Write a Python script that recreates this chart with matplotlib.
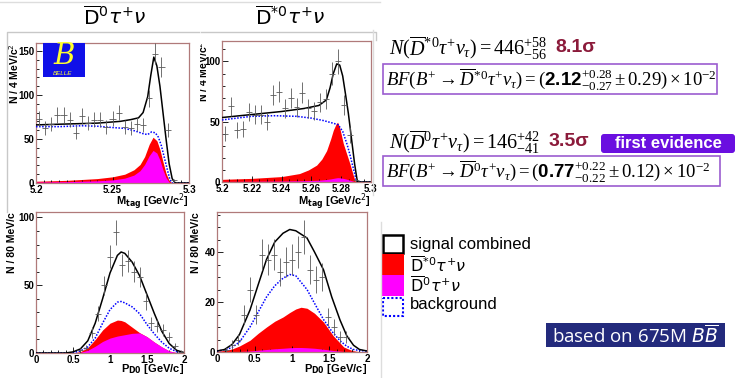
import numpy as np
import matplotlib
matplotlib.use('Agg')
import matplotlib.pyplot as plt
from matplotlib.patches import Rectangle, FancyBboxPatch
from matplotlib.ticker import MultipleLocator, FixedLocator, FixedFormatter

W, H = 737, 378
plt.rcParams['font.family'] = ['Liberation Sans', 'DejaVu Sans']
plt.rcParams['mathtext.rm'] = 'Liberation Serif'
plt.rcParams['mathtext.it'] = 'Liberation Serif:italic'
plt.rcParams['mathtext.bf'] = 'Liberation Sans:bold'
plt.rcParams['mathtext.fallback'] = 'stix'

# ---------------- data ----------------
# M_tag histograms (4 MeV bins, 5.20 - 5.30)
mtag_centres = 5.202 + 0.004 * np.arange(25)
tl_counts = [73, 62, 67, 77, 77, 72, 57, 76, 68, 72, 72, 64, 73, 80, 64, 62, 67, 66,
             96, 147, 132, 60, 3, 0, 0]
tr_counts = [40, 63, 43, 44, 58, 56, 56, 50, 72, 75, 61, 70, 62, 74, 61, 59, 66, 69,
             90, 100, 64, 39, 2, 0, 0]
# P_D0 histograms (80 MeV bins, 0 - 2)
pd_centres = 0.04 + 0.08 * np.arange(25)
bl_counts = [0, 0, 0, 0, 0, 0, 0, 2, 4, 15, 29, 50, 71, 89, 65, 68, 60, 56, 38, 22,
             20, 17, 12, 5, 1]
br_counts = [0, 1, 3, 5, 15, 25, 15, 39, 37, 39, 32, 36, 37, 40, 46, 33, 29, 30, 14, 10,
             6, 6, 0, 0, 0]

# top-left (D0 tau nu, M_tag) curves
tl_x_tot = [5.200, 5.220, 5.240, 5.255, 5.262, 5.267, 5.270, 5.273, 5.275, 5.277, 5.279,
            5.281, 5.283, 5.285, 5.287, 5.289, 5.291, 5.300]
tl_tot = [66, 67, 68, 70, 72, 74, 80, 98, 122, 143, 133, 110, 80, 50, 22, 5, 0, 0]
tl_x_bkg = [5.200, 5.215, 5.230, 5.240, 5.250, 5.258, 5.265, 5.270, 5.273, 5.2755, 5.278,
            5.280, 5.282, 5.284, 5.286, 5.2875, 5.289, 5.300]
tl_bkg = [64, 64, 65, 64.5, 63, 62, 59, 56, 55, 58, 57, 52, 42, 28, 14, 4, 0, 0]
tl_x_sig = [5.200, 5.220, 5.240, 5.250, 5.258, 5.264, 5.268, 5.271, 5.274, 5.2765, 5.279,
            5.281, 5.283, 5.285, 5.287, 5.289, 5.300]
tl_red = [2, 3, 5, 7, 10, 15, 21, 30, 44, 52, 48, 38, 24, 11, 3, 0, 0]
tl_mag = [1, 1.5, 2.5, 3.5, 5.5, 9, 14, 21, 31, 37, 34, 26, 15, 6, 1, 0, 0]

# top-right (D*0 tau nu, M_tag) curves
tr_x_tot = [5.200, 5.220, 5.240, 5.255, 5.265, 5.270, 5.2725, 5.2747, 5.277, 5.279, 5.281,
            5.283, 5.2848, 5.287, 5.289, 5.2905, 5.291, 5.300]
tr_tot = [53.5, 56, 58.5, 61, 63.5, 68, 78, 90, 98, 97, 88, 72, 57, 35, 15, 3, 0, 0]
tr_x_bkg = [5.200, 5.210, 5.220, 5.235, 5.250, 5.260, 5.268, 5.274, 5.278, 5.281, 5.284,
            5.286, 5.288, 5.290, 5.291, 5.300]
tr_bkg = [51.5, 53, 54.5, 55, 54.5, 53, 51, 49, 47.5, 42, 31, 22, 12, 2, 0, 0]
tr_x_sig = [5.200, 5.220, 5.240, 5.252, 5.258, 5.2635, 5.267, 5.2702, 5.273, 5.2747, 5.2765,
            5.2776, 5.279, 5.2814, 5.2835, 5.2859, 5.288, 5.2893, 5.2905, 5.300]
tr_red = [2.2, 3, 4.5, 7, 10, 14, 19, 26, 36, 43, 48, 49.6, 45, 32, 24, 15, 6, 1, 0, 0]
tr_mag = [0.5, 0.6, 0.8, 1.0, 1.2, 1.4, 1.7, 2.1, 2.6, 3.0, 3.4, 3.6, 3.5, 3.0, 2.4, 1.5,
          0.7, 0.2, 0, 0]

# bottom-left (D0 tau nu, P_D0) curves
bl_x = [0.0, 0.4, 0.5, 0.6, 0.7, 0.8, 0.9, 1.0, 1.1, 1.15, 1.2, 1.3, 1.4, 1.5, 1.6, 1.7,
        1.8, 1.9, 2.0]
bl_tot = [0, 0, 0.8, 3, 9, 22, 40, 59, 72, 74.5, 73.5, 67, 57, 43, 29, 16, 7, 2, 0.3]
bl_bkg = [0, 0, 0.3, 1.5, 4.5, 11, 22, 32, 37.5, 38, 37, 34, 29, 21, 14, 8, 3.5, 1, 0]
bl_red = [0, 0, 0.2, 1, 4, 10, 17, 22, 24.3, 24, 23, 19, 15, 12, 8, 4.5, 1.5, 0.3, 0]
bl_mag = [0, 0, 0.1, 0.5, 2, 5, 8.5, 11, 12.5, 13, 13.5, 14.5, 14.8, 12, 8, 4.5, 1.5, 0.3, 0]

# bottom-right (D*0 tau nu, P_D0) curves
br_x = [0.0, 0.1, 0.2, 0.3, 0.44, 0.55, 0.66, 0.77, 0.88, 0.97, 1.05, 1.2, 1.3, 1.42, 1.53,
        1.64, 1.73, 1.82, 1.9, 2.0]
br_tot = [0.4, 1, 3, 7, 16.8, 27, 37, 44, 47.5, 49, 48.5, 45.6, 40, 32.9, 22, 12.8, 6.5,
          2.7, 1, 0.4]
br_bkg = [0.4, 0.8, 1.8, 4, 10, 16, 22, 26.5, 29.5, 31, 30.5, 25, 19.5, 13, 8.3, 4.5, 2.3,
          1, 0.6, 0.4]
br_xs = [0.0, 0.1, 0.2, 0.3, 0.44, 0.55, 0.66, 0.77, 0.88, 0.97, 1.05, 1.12, 1.2, 1.3, 1.42,
         1.55, 1.69, 1.8, 1.9, 2.0]
br_red = [0.3, 0.6, 1.2, 2.4, 4.7, 7.5, 10, 12.3, 14, 15.8, 17.2, 17.9, 17.5, 15.5, 12, 6.5,
          2, 0.6, 0.1, 0]
br_mag = [0, 0.05, 0.1, 0.2, 0.4, 0.7, 1.0, 1.3, 1.5, 1.7, 1.8, 1.8, 1.7, 1.5, 1.1, 0.6, 0.2,
          0.05, 0, 0]

# ---------------- figure ----------------
fig = plt.figure(figsize=(W / 100, H / 100), dpi=100)
fig.patch.set_facecolor('white')

FRAME = '#b07a7a'


def px_axes(l, t, r, b, **kw):
    return fig.add_axes([l / W, 1 - b / H, (r - l) / W, (b - t) / H], **kw)


def style(ax, xlim, ylim, xt, xtl, xminor, yt, yminor):
    ax.set_xlim(*xlim)
    ax.set_ylim(*ylim)
    ax.xaxis.set_major_locator(FixedLocator(xt))
    ax.xaxis.set_major_formatter(FixedFormatter(xtl))
    ax.xaxis.set_minor_locator(MultipleLocator(xminor))
    ax.yaxis.set_major_locator(FixedLocator(yt))
    ax.yaxis.set_major_formatter(FixedFormatter([str(v) for v in yt]))
    ax.yaxis.set_minor_locator(MultipleLocator(yminor))
    ax.tick_params(which='both', direction='in', top=False, right=False,
                   labelsize=7, pad=1.2, colors='black', width=0.6)
    ax.tick_params(which='major', length=4)
    ax.tick_params(which='minor', length=2)
    for lab in ax.get_xticklabels() + ax.get_yticklabels():
        lab.set_fontweight('bold')
    for s in ax.spines.values():
        s.set_color(FRAME)
        s.set_linewidth(0.9)


def draw(ax, xs, red, mag, xb, bkg, xt, tot, centres, counts, halfw):
    ax.fill_between(xs, 0, red, color='#ff0000', lw=0, zorder=1)
    ax.fill_between(xs, 0, mag, color='#ff00ff', lw=0, zorder=2)
    ax.plot(xb, bkg, color='#0000ff', lw=1.1, ls=(0, (1, 1)), zorder=3)
    ax.plot(xt, tot, color='black', lw=1.1, zorder=4)
    c = np.asarray(counts, float)
    m = c > 0
    ax.errorbar(np.asarray(centres)[m], c[m], yerr=np.sqrt(c[m]), xerr=halfw, fmt='none',
                ecolor='#5a5a5a', elinewidth=0.6, zorder=5)


ax_tl = px_axes(36, 43, 189, 183)
draw(ax_tl, tl_x_sig, tl_red, tl_mag, tl_x_bkg, tl_bkg, tl_x_tot, tl_tot,
     mtag_centres, tl_counts, 0.002)
style(ax_tl, (5.2, 5.3), (0, 159), [5.2, 5.25, 5.3], ['5.2', '5.25', '5.3'], 0.005,
      [0, 50, 100, 150], 10)

ax_tr = px_axes(222, 41, 371, 182)
draw(ax_tr, tr_x_sig, tr_red, tr_mag, tr_x_bkg, tr_bkg, tr_x_tot, tr_tot,
     mtag_centres, tr_counts, 0.002)
style(ax_tr, (5.2, 5.3), (0, 117),
      [5.2, 5.22, 5.24, 5.26, 5.28, 5.3], ['5.2', '5.22', '5.24', '5.26', '5.28', '5.3'],
      0.005, [0, 50, 100], 10)

ax_bl = px_axes(36, 212, 184, 353)
draw(ax_bl, bl_x, bl_red, bl_mag, bl_x, bl_bkg, bl_x, bl_tot, pd_centres, bl_counts, 0.04)
style(ax_bl, (0, 2), (0, 104), [0, 0.5, 1, 1.5, 2], ['0', '0.5', '1', '1.5', '2'], 0.1,
      [0, 50, 100], 10)

ax_br = px_axes(217, 212, 367, 352)
draw(ax_br, br_xs, br_red, br_mag, br_x, br_bkg, br_x, br_tot, pd_centres, br_counts, 0.04)
style(ax_br, (0, 2), (0, 56), [0, 0.5, 1, 1.5, 2], ['0', '0.5', '1', '1.5', '2'], 0.1,
      [0, 20, 40], 5)

# ---------------- overlay in pixel coordinates ----------------
ov = fig.add_axes([0, 0, 1, 1], zorder=10)
ov.set_xlim(0, W)
ov.set_ylim(H, 0)
ov.axis('off')
ov.patch.set_alpha(0)

GREY = '#c8c8c8'
# slide picture frames
ov.plot([0, 380], [2, 2], color='#dddddd', lw=1)
ov.plot([7, 7, 199], [212, 32, 32], color=GREY, lw=1)
ov.plot([201, 376, 376], [32, 32, 40], color=GREY, lw=1)
ov.plot([373, 373], [30, 195], color='#dddddd', lw=1)
ov.plot([381, 381], [222, 378], color='#dddddd', lw=1)

# titles
ov.text(115, 17, r'$\overline{\mathrm{D}}^{0}\tau^{+}\nu$', fontsize=14.5, ha='center',
        va='center', math_fontfamily='dejavusans')
ov.text(290, 17, r'$\overline{\mathrm{D}}^{*0}\tau^{+}\nu$', fontsize=14.5, ha='center',
        va='center', math_fontfamily='dejavusans')

# axis titles
ov.text(14, 43, r'N / 4 MeV/c$^{2}$', rotation=90, fontsize=7.5, fontweight='bold',
        ha='center', va='top', math_fontfamily='dejavusans')
ov.text(12, 212, 'N / 80 MeV/c', rotation=90, fontsize=7.5, fontweight='bold',
        ha='center', va='top')
ov.text(196, 212, 'N / 80 MeV/c', rotation=90, fontsize=7.5, fontweight='bold',
        ha='center', va='top')
# right-hand top y title, cut by the picture edge as in the slide
clip_ax = px_axes(200, 36, 207, 190, zorder=11)
clip_ax.axis('off')
clip_ax.set_xlim(0, 7)
clip_ax.set_ylim(154, 0)
clip_ax.text(3, 5, r'N / 4 MeV/c$^{2}$', rotation=90, fontsize=7.5, fontweight='bold',
             ha='center', va='top', clip_on=True, math_fontfamily='dejavusans')

for xr in (189, 371):
    ov.text(xr, 201, r'M$_{\mathbf{tag}}$ [GeV/c$^{2}$]', fontsize=8, fontweight='bold',
            ha='right', va='center', math_fontfamily='dejavusans')
for xr in (184, 367):
    ov.text(xr, 369, r'P$_{\mathbf{D0}}$ [GeV/c]', fontsize=8, fontweight='bold',
            ha='right', va='center', math_fontfamily='dejavusans')

# Belle logo
ov.add_patch(Rectangle((43, 43), 42, 34, facecolor='#1010e8', edgecolor='none'))
ov.text(64, 56, 'B', fontsize=21, color='#ffff30', style='italic', family='DejaVu Serif',
        ha='center', va='center')
ov.text(63, 73.5, 'BELLE', fontsize=4.5, color='#ffff30', style='italic', ha='center',
        va='center')

# results text
MF = 'custom'
ov.text(389, 48, r'$N(\overline{D}^{*0}\tau^{+}\nu_{\tau}) = 446^{+58}_{-56}$', fontsize=14.5,
        ha='left', va='center', math_fontfamily=MF)
ov.text(555, 47, '8.1σ', fontsize=14, fontweight='bold', color='#8b1a3a', ha='left',
        va='center')
ov.add_patch(Rectangle((383, 64), 334, 30, facecolor='none', edgecolor='#9b5cd0', lw=1.2))
ov.text(386, 79, r'$BF(B^{+} \rightarrow \overline{D}^{*0}\tau^{+}\nu_{\tau}) = '
        r'(\mathbf{2.12}^{+0.28}_{-0.27} \pm 0.29)\times 10^{-2}$', fontsize=13.5,
        ha='left', va='center', math_fontfamily=MF)

ov.text(389, 142, r'$N(\overline{D}^{0}\tau^{+}\nu_{\tau}) = 146^{+42}_{-41}$', fontsize=14.5,
        ha='left', va='center', math_fontfamily=MF)
ov.text(549, 141, '3.5σ', fontsize=14, fontweight='bold', color='#8b1a3a', ha='left',
        va='center')
ov.add_patch(FancyBboxPatch((601, 134), 134, 19, boxstyle='round,pad=0,rounding_size=3',
                            facecolor='#6a0fe0', edgecolor='none'))
ov.text(668, 143.5, 'first evidence', fontsize=12, fontweight='bold', color='white',
        ha='center', va='center')
ov.add_patch(Rectangle((383, 156), 337, 30, facecolor='none', edgecolor='#9b5cd0', lw=1.2))
ov.text(386, 171, r'$BF(B^{+} \rightarrow \overline{D}^{0}\tau^{+}\nu_{\tau}) = '
        r'(\mathbf{0.77}^{+0.22}_{-0.22} \pm 0.12)\times 10^{-2}$', fontsize=13.5,
        ha='left', va='center', math_fontfamily=MF)

# legend
ov.add_patch(Rectangle((383, 235), 20, 18, facecolor='white', edgecolor='black', lw=1.8))
ov.add_patch(Rectangle((382, 254), 22, 21, facecolor='#ff0000', edgecolor='none'))
ov.add_patch(Rectangle((382, 275), 22, 21, facecolor='#ff00ff', edgecolor='none'))
ov.add_patch(Rectangle((383, 298), 20, 18, facecolor='white', edgecolor='#0000ff', lw=1.5,
                       ls=(0, (1, 1))))
ov.text(410, 245, 'signal combined', fontsize=12, ha='left', va='center')
ov.text(410, 266, r'$\overline{\mathrm{D}}^{*0}\tau^{+}\nu$', fontsize=11.5, ha='left',
        va='center', math_fontfamily='dejavusans')
ov.text(410, 286, r'$\overline{\mathrm{D}}^{0}\tau^{+}\nu$', fontsize=11.5, ha='left',
        va='center', math_fontfamily='dejavusans')
ov.text(410, 305, 'background', fontsize=12, ha='left', va='center')

# based on box
ov.add_patch(Rectangle((546, 323), 179, 24, facecolor='#232a7c', edgecolor='none'))
ov.text(552, 335.5, r'based on 675M $B\overline{B}$', fontsize=13.5, color='white',
        family='Open Sans', ha='left', va='center', math_fontfamily='dejavusans')

fig.savefig('out.png', dpi=100, facecolor='white')
